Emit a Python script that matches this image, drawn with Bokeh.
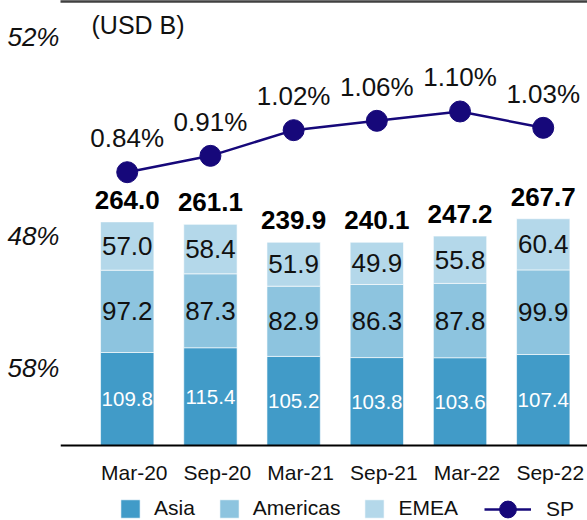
from bokeh.plotting import figure
from bokeh.models import (ColumnDataSource, Range1d, LinearAxis, FixedTicker,
                          Legend, LegendItem, Label, Span)
from bokeh.core.properties import value
from bokeh.embed import file_html
from bokeh.resources import INLINE

# ---- data ----
categories = ["Mar-20", "Sep-20", "Mar-21", "Sep-21", "Mar-22", "Sep-22"]
asia = [109.8, 115.4, 105.2, 103.8, 103.6, 107.4]
americas = [97.2, 87.3, 82.9, 86.3, 87.8, 99.9]
emea = [57.0, 58.4, 51.9, 49.9, 55.8, 60.4]
totals = [264.0, 261.1, 239.9, 240.1, 247.2, 267.7]
sp = [0.84, 0.91, 1.02, 1.06, 1.10, 1.03]
series_names = ["Asia", "Americas", "EMEA", "SP"]
side_labels = ["52%", "48%", "58%"]
side_label_levels = [482, 247, 92]
unit_label = "(USD B)"

# ---- style ----
FONT = value("Liberation Sans")
C_ASIA = "#419BC8"
C_AMER = "#8DC4DF"
C_EMEA = "#B4D8EA"
NAVY = "#16087A"

xs = list(range(len(categories)))
base_amer = [a for a in asia]
base_emea = [a + b for a, b in zip(asia, americas)]
src = ColumnDataSource(dict(
    x=xs, cat=categories, zero=[0] * len(xs),
    asia=asia, americas=americas, emea=emea, totals=totals,
    total_txt=[f"{t:.1f}" for t in totals],
    sp=sp, sp_txt=[f"{v:.2f}%" for v in sp],
    asia_mid=[a / 2 for a in asia],
    amer_mid=[b + a / 2 for b, a in zip(base_amer, americas)],
    emea_mid=[b + e / 2 for b, e in zip(base_emea, emea)],
    asia_txt=[f"{v:.1f}" for v in asia],
    amer_txt=[f"{v:.1f}" for v in americas],
    emea_txt=[f"{v:.1f}" for v in emea],
))

p = figure(width=587, height=520,
           x_range=Range1d(-0.802, 5.532), y_range=Range1d(-88.55, 524.2),
           output_backend="svg", toolbar_location=None,
           x_axis_location=None,
           min_border_left=60, min_border_right=0, min_border_top=1,
           min_border_bottom=0)
p.outline_line_color = None
p.xgrid.grid_line_color = None
p.ygrid.grid_line_color = None
p.background_fill_color = "white"
p.border_fill_color = "white"
p.extra_y_ranges = {"sp": Range1d(-0.6516, 1.571)}

# left axis: side percentage labels
ya = p.yaxis[0]
ya.ticker = FixedTicker(ticks=side_label_levels)
ya.major_label_overrides = {t: s for t, s in zip(side_label_levels, side_labels)}
ya.major_tick_line_color = None
ya.minor_tick_line_color = None
ya.axis_line_color = None
ya.major_label_text_font = "Liberation Sans"
ya.major_label_text_font_style = "italic"
ya.major_label_text_font_size = "26px"
ya.major_label_text_color = "#111111"
ya.major_label_standoff = -5

# top rule
top_ax = LinearAxis(ticker=FixedTicker(ticks=[]), axis_line_color="#404040",
                    axis_line_width=2.5, major_tick_line_color=None,
                    minor_tick_line_color=None, major_label_text_font_size="0px",
                    major_label_standoff=0, major_tick_out=0, minor_tick_out=0)
p.add_layout(top_ax, "above")

# stacked bars
bars = p.vbar_stack(["asia", "americas", "emea"], x="x", width=0.641,
                    color=[C_ASIA, C_AMER, C_EMEA], source=src,
                    line_color="white", line_width=1, line_alpha=0.6)

# baseline
p.add_layout(Span(location=0, dimension="width", line_color="black",
                  line_width=2))

# category labels
p.text(x="x", y="zero", text="cat", source=src, text_align="center",
       text_baseline="middle", x_offset=7, y_offset=27, text_font=FONT,
       text_font_size="21px", text_color="#111111")

# segment labels
p.text(x="x", y="asia_mid", text="asia_txt", source=src, text_align="center",
       text_baseline="middle", text_font=FONT, text_font_size="20.5px",
       text_color="white")
p.text(x="x", y="amer_mid", text="amer_txt", source=src, text_align="center",
       text_baseline="middle", text_font=FONT, text_font_size="26px",
       text_color="#111111")
p.text(x="x", y="emea_mid", text="emea_txt", source=src, text_align="center",
       text_baseline="middle", text_font=FONT, text_font_size="26px",
       text_color="#111111")
# totals
p.text(x="x", y="totals", text="total_txt", source=src, text_align="center",
       text_baseline="alphabetic", y_offset=-22, text_font=FONT,
       text_font_size="26px", text_font_style="bold", text_color="black")

# SP line
ln = p.line(x="x", y="sp", source=src, y_range_name="sp", line_color=NAVY,
            line_width=2.5)
sc = p.scatter(x="x", y="sp", source=src, y_range_name="sp", size=21,
               fill_color=NAVY, line_color=NAVY)
p.text(x="x", y="sp", text="sp_txt", source=src, y_range_name="sp",
       text_align="center", text_baseline="alphabetic", y_offset=-34,
       text_font=FONT, text_font_size="26px", text_color="#111111")

# unit label
p.add_layout(Label(x=-0.429, y=495.9, text=unit_label, text_align="left",
                   text_baseline="middle", text_font="Liberation Sans",
                   text_font_size="25px", text_color="#111111"))

# legends
leg1 = Legend(items=[LegendItem(label=series_names[i], renderers=[bars[i]])
                     for i in range(3)],
              location=(58, 0), orientation="horizontal",
              glyph_width=24, glyph_height=23, label_standoff=12, spacing=22,
              padding=0, margin=0, border_line_color=None,
              background_fill_alpha=0, label_text_font="Liberation Sans",
              label_text_font_size="21px", label_text_color="#111111")
leg2 = Legend(items=[LegendItem(label=series_names[3], renderers=[ln, sc])],
              location=(424, -10), orientation="horizontal",
              glyph_width=47, glyph_height=42, label_standoff=15,
              padding=0, margin=0, border_line_color=None,
              background_fill_alpha=0, label_text_font="Liberation Sans",
              label_text_font_size="21px", label_text_color="#111111")
p.add_layout(leg1)
p.add_layout(leg2)

open("out.html", "w").write(file_html(p, INLINE))
